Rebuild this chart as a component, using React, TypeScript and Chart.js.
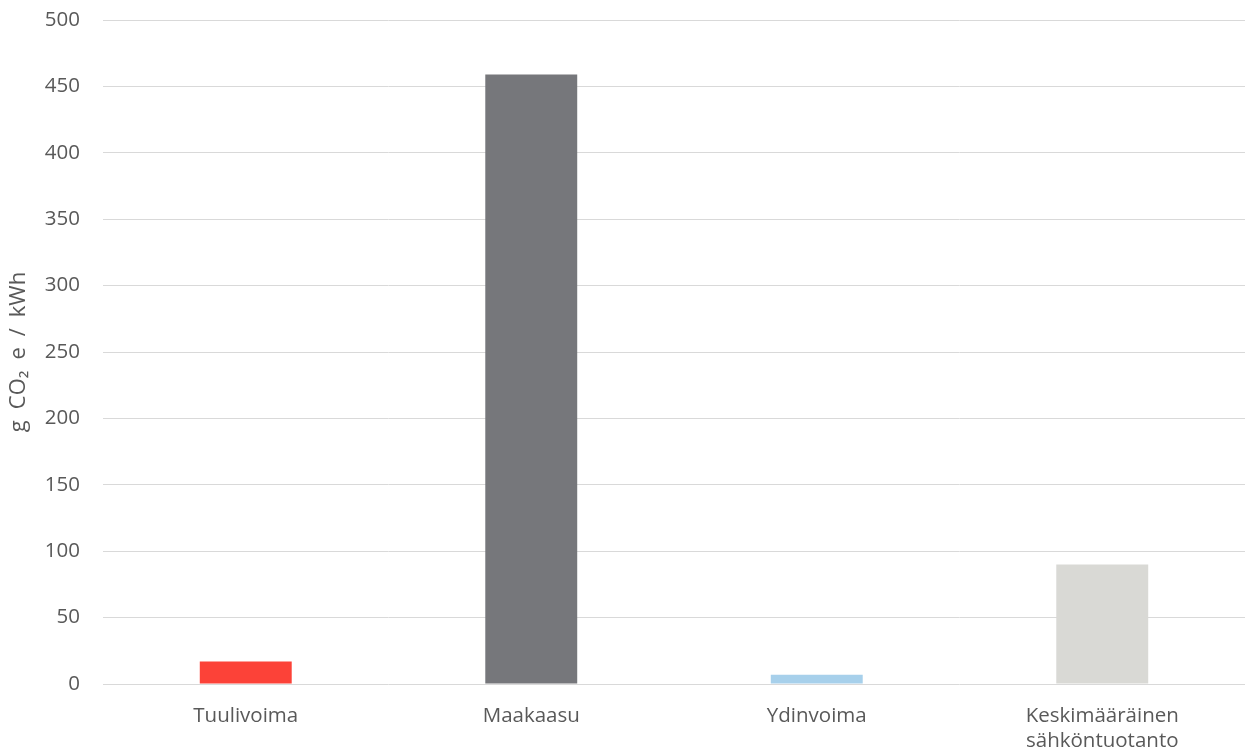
import React, { useEffect, useRef } from "react";
import { Chart, registerables } from "chart.js";

Chart.register(...registerables);

const categories: (string | string[])[] = ["Tuulivoima", "Maakaasu", "Ydinvoima", ["Keskimääräinen", "sähköntuotanto"]];
const values = [17, 459, 7, 90];
const barColors = ["#FC4238", "#76777B", "#A7D0EB", "#D9D9D5"];
const yTitle = "g\u2002CO₂\u2002e\u2002/\u2002kWh";

export default function App() {
  const ref = useRef<HTMLCanvasElement | null>(null);
  useEffect(() => {
    document.body.style.margin = "0";
    const ctx = ref.current!;
    const font = { family: "Open Sans", size: 20.5 };
    const chart = new Chart(ctx, {
      type: "bar",
      data: {
        labels: categories,
        datasets: [
          {
            data: values,
            backgroundColor: barColors,
            barPercentage: 0.322,
            categoryPercentage: 1,
          },
        ],
      },
      options: {
        animation: false,
        responsive: false,
        maintainAspectRatio: false,
        layout: { padding: { top: 20, right: 4, left: 0, bottom: 0 } },
        plugins: { legend: { display: false }, tooltip: { enabled: false } },
        scales: {
          x: {
            grid: { display: false, drawTicks: false },
            border: { display: false },
            ticks: {
              color: "#595959",
              font,
              padding: 20,
              maxRotation: 0,
            },
            afterFit: (s: any) => {
              s.height = 69;
              s.paddingTop = 0;
              s.paddingBottom = 0;
            },
          },
          y: {
            min: 0,
            max: 500,
            ticks: {
              stepSize: 50,
              color: "#595959",
              font,
              padding: 23,
            },
            grid: { color: "#D9D9D9", lineWidth: 1, drawTicks: false },
            border: { display: false },
            title: {
              display: true,
              text: yTitle,
              color: "#595959",
              font: { family: "Open Sans", size: 22 },
              padding: { top: 6, bottom: 4 },
            },
            afterFit: (s: any) => {
              s.width = 103;
              s.paddingTop = 0;
              s.paddingBottom = 0;
            },
          },
        },
      },
    });
    return () => chart.destroy();
  }, []);
  return (
    <div style={{ position: "absolute", left: 0, top: 0, width: 1249, height: 753 }}>
      <canvas ref={ref} width={1249} height={753} />
    </div>
  );
}
